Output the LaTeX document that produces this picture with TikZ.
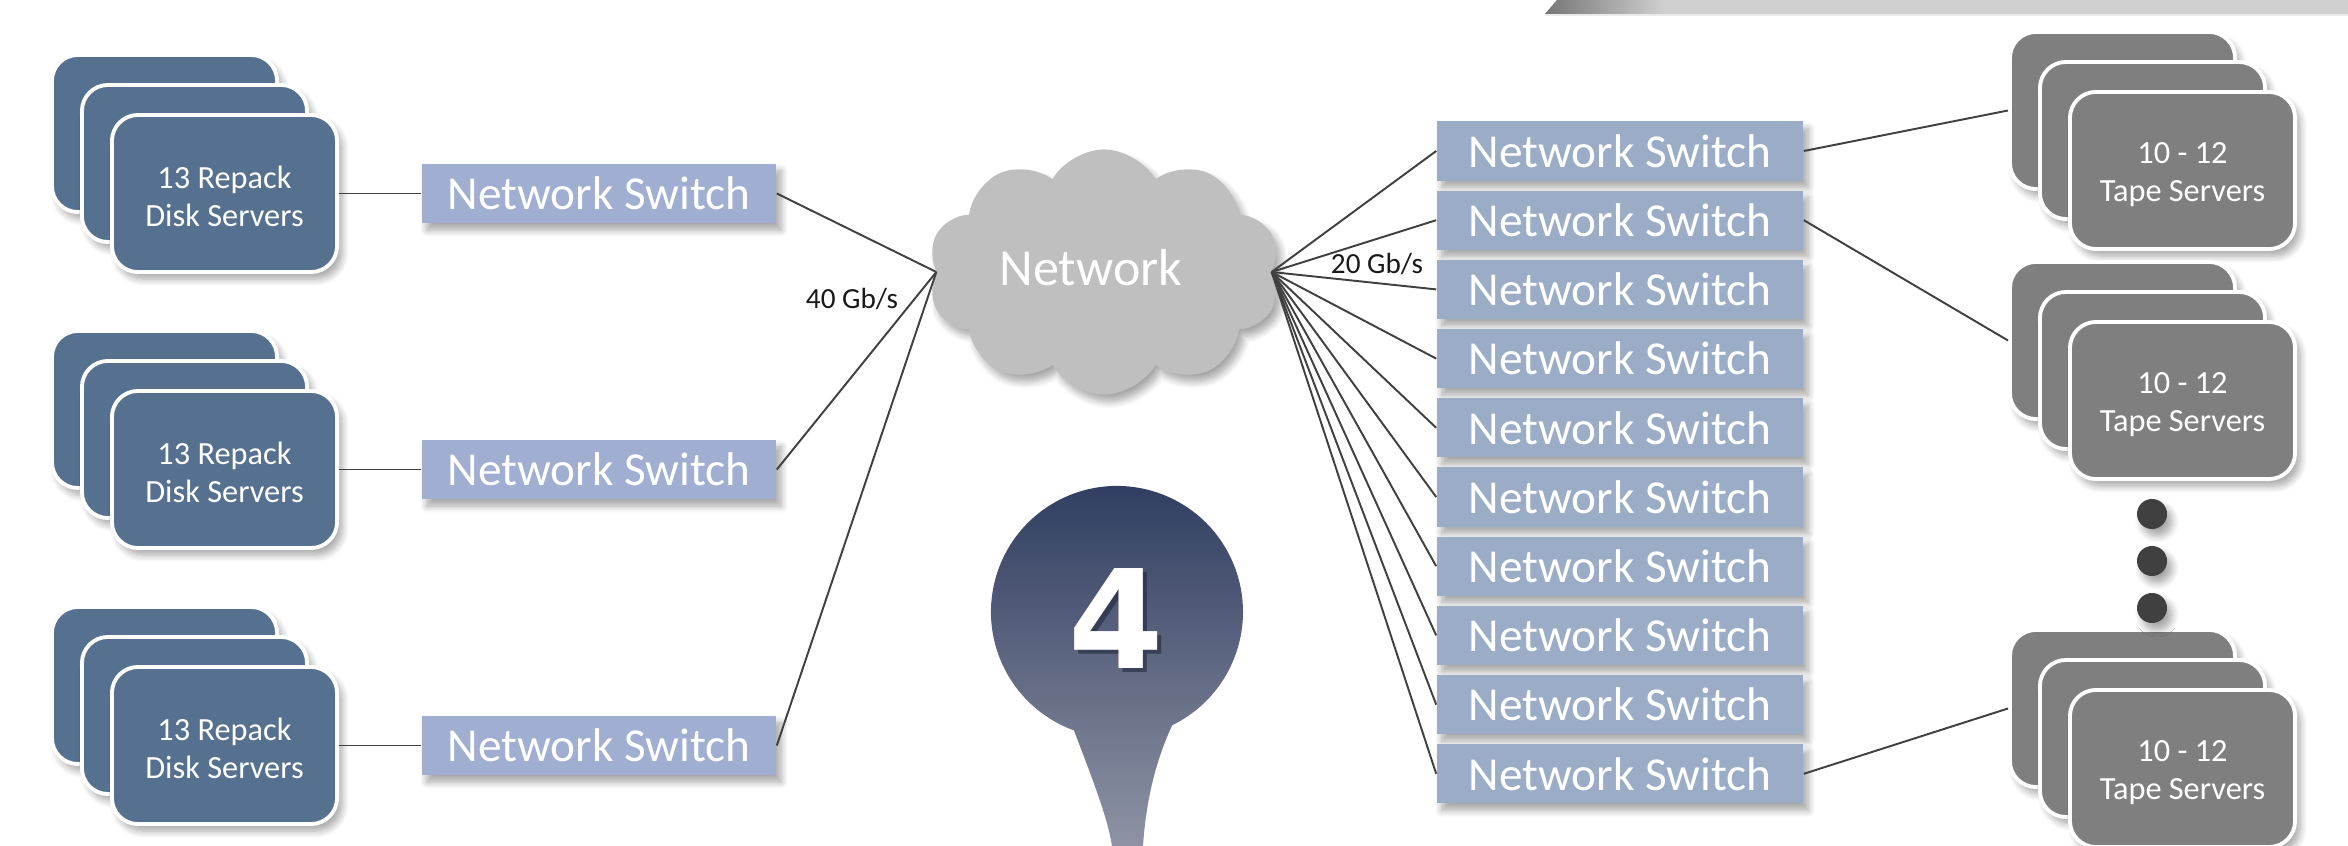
\documentclass[tikz,border=0pt]{standalone}
\usepackage{fontspec}
\setmainfont{Carlito}
\newfontfamily\pinfont{DejaVu Sans}
\usetikzlibrary{shapes.symbols,shadows.blur}

\definecolor{diskfill}{HTML}{56708F}
\definecolor{tapefill}{HTML}{7F7F7F}
\definecolor{lswitch}{HTML}{A0AED2}
\definecolor{rswitch}{HTML}{9BADC6}
\definecolor{cloudfill}{HTML}{BFBFBF}
\definecolor{wirecol}{HTML}{404040}
\definecolor{dotfill}{HTML}{404040}
\definecolor{pintop}{HTML}{2D3A5E}
\definecolor{pinbot}{HTML}{8E93A4}
\definecolor{bardark}{HTML}{767676}
\definecolor{barlight}{HTML}{D0D0D0}

\tikzset{
  softshadow/.style={blur shadow={shadow xshift=0.05cm, shadow yshift=-0.07cm,
      shadow blur radius=0.07cm, shadow blur steps=8, shadow opacity=35}},
  card/.style={rectangle, rounded corners=0.26cm, draw=white, line width=1.1pt,
      minimum width=2.25cm, minimum height=1.57cm, inner sep=0pt, text=white,
      align=center, font=\fontsize{9.2}{11}\selectfont, softshadow},
  disk/.style={card, fill=diskfill},
  tape/.style={card, fill=tapefill},
  switchbox/.style={rectangle, minimum height=0.59cm, inner sep=0pt, text=white,
      font=\fontsize{13.45}{16}\selectfont, softshadow},
  lsw/.style={switchbox, fill=lswitch, minimum width=3.54cm},
  rsw/.style={switchbox, fill=rswitch, minimum width=3.66cm},
  wire/.style={draw=wirecol, line width=0.55pt},
  rate/.style={font=\fontsize{8.3}{10}\selectfont, text=black!90, inner sep=0pt},
  dotnode/.style={circle, fill=dotfill, minimum size=0.30cm, inner sep=0pt, softshadow},
}

\begin{document}
\begin{tikzpicture}[x=0.01cm, y=0.01cm]
\useasboundingbox (0,-846) rectangle (2348,0);

% header bar, top right
\fill[barlight] (1545,-14) -- (1557,0) -- (2348,0) -- (2348,-14) -- cycle;
\shade[left color=bardark, right color=barlight] (1545,-14) -- (1557,0) -- (1665,0) -- (1665,-14) -- cycle;
\draw[black!8, line width=0.4pt] (1545,-15) -- (2348,-15);

% disk server stacks and their switches
\foreach \k/\n in {0/1,1/2,2/3} {
  \node[disk] (disk\n-back)  at (164.5,{-133.5-276*\k}) {};
  \node[disk] (disk\n-mid)   at (194.5,{-163.5-276*\k}) {};
  \node[disk] (disk\n-front) at (224.5,{-193.5-276*\k}) {\rule{0pt}{0.28cm}13 Repack\\Disk Servers};
  \node[lsw]  (ls\n) at (599,{-193.5-276*\k}) {Network Switch};
}

% core network
\node[cloud, cloud puffs=10, cloud puff arc=120, cloud ignores aspect,
      minimum width=3.52cm, minimum height=2.45cm, fill=cloudfill,
      inner sep=0pt, softshadow] (net) at (1104,-272) {};
\node[text=white, font=\fontsize{14.8}{17}\selectfont, inner sep=0pt] (netlabel) at (1091,-268) {Network};

% tape-side switches
\foreach \i in {1,...,10} {
  \node[rsw] (rs\i) at (1620,{-151-69.2*(\i-1)}) {Network Switch};
}

% tape server stacks
\foreach \y/\n in {32/1,262/2,630/3} {
  \node[tape] (tape\n-back)  at (2122.5,{-\y-78.5}) {};
  \node[tape] (tape\n-mid)   at (2152.5,{-\y-108.5}) {};
  \node[tape] (tape\n-front) at (2182.5,{-\y-138.5}) {\rule{0pt}{0.29cm}10 - 12\\Tape Servers};
}

% ellipsis between the stacks
\node[dotnode] (dot1) at (2152,-514) {};
\node[dotnode] (dot2) at (2152,-561) {};
\node[dotnode] (dot3) at (2152,-608) {};

% connections
\foreach \n in {1,2,3} {
  \draw[wire] (disk\n-front.east) -- (ls\n.west);
  \draw[wire] (ls\n.east) -- (net.west);
}
\foreach \i in {1,...,10} {
  \draw[wire] (net.east) -- (rs\i.west);
}
\draw[wire] (rs1.east) -- (tape1-back.west);
\draw[wire] (rs2.east) -- (tape2-back.west);
\draw[wire] (rs10.east) -- (tape3-back.west);

\node[rate] (rate40) at (852,-299) {40 Gb/s};
\node[rate] (rate20) at (1377,-264) {20 Gb/s};

% step marker
\coordinate (pinR) at (1172.2,-725.2);
\shade[top color=pintop, bottom color=pinbot]
  (pinR) arc[start angle=-64, end angle=250, radius=126]
  .. controls (1095,-785) and (1108,-820) .. (1112,-846)
  -- (1143,-846)
  .. controls (1146,-800) and (1156,-760) .. (pinR) -- cycle;
\node[font=\pinfont\bfseries\fontsize{39}{39}\selectfont, text=pintop!60!black,
      opacity=0.55, inner sep=0pt] (pinshade) at (1120,-623) {4};
\node[font=\pinfont\bfseries\fontsize{39}{39}\selectfont, text=white,
      inner sep=0pt] (pinnum) at (1116,-619) {4};
\end{tikzpicture}
\end{document}
